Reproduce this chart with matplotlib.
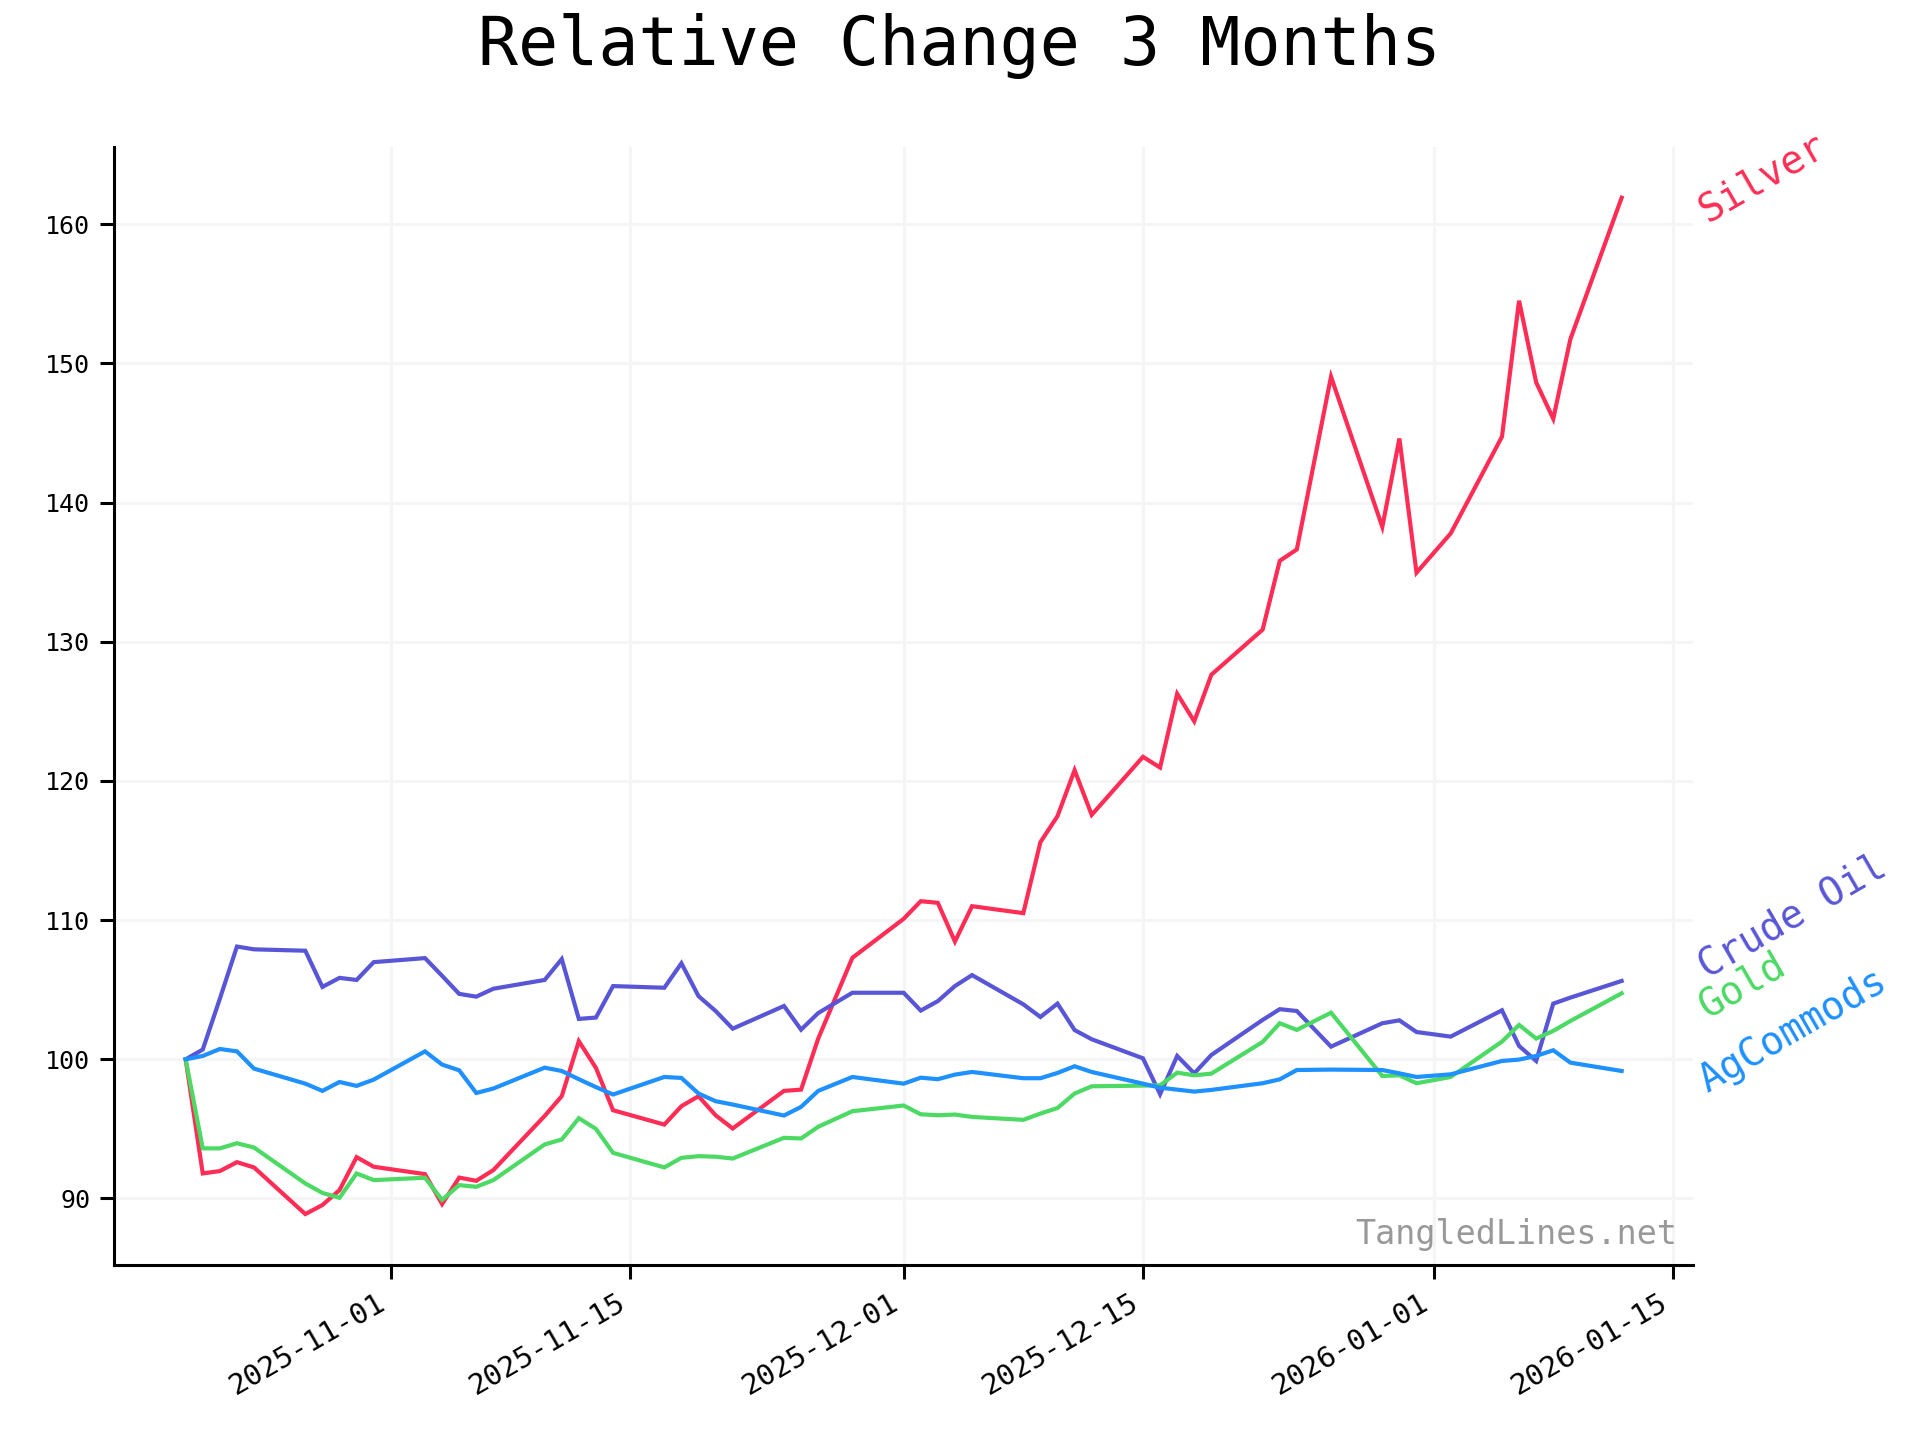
import matplotlib
matplotlib.use("Agg")
import matplotlib.pyplot as plt
import matplotlib.dates as mdates
import pandas as pd

dates = [
    "2025-10-20", "2025-10-21", "2025-10-22", "2025-10-23", "2025-10-24",
    "2025-10-27", "2025-10-28", "2025-10-29", "2025-10-30", "2025-10-31",
    "2025-11-03", "2025-11-04", "2025-11-05", "2025-11-06", "2025-11-07",
    "2025-11-10", "2025-11-11", "2025-11-12", "2025-11-13", "2025-11-14",
    "2025-11-17", "2025-11-18", "2025-11-19", "2025-11-20", "2025-11-21",
    "2025-11-24", "2025-11-25", "2025-11-26", "2025-11-28",
    "2025-12-01", "2025-12-02", "2025-12-03", "2025-12-04", "2025-12-05",
    "2025-12-08", "2025-12-09", "2025-12-10", "2025-12-11", "2025-12-12",
    "2025-12-15", "2025-12-16", "2025-12-17", "2025-12-18", "2025-12-19",
    "2025-12-22", "2025-12-23", "2025-12-24", "2025-12-26",
    "2025-12-29", "2025-12-30", "2025-12-31",
    "2026-01-02", "2026-01-05", "2026-01-06", "2026-01-07", "2026-01-08",
    "2026-01-09", "2026-01-12",
]

silver = [
    100, 91.8, 91.97, 92.61, 92.23,
    88.88, 89.53, 90.6, 92.97, 92.28,
    91.75, 89.6, 91.5, 91.27, 92.04,
    95.93, 97.35, 101.3, 99.38, 96.34,
    95.31, 96.63, 97.35, 95.98, 95.03,
    97.73, 97.82, 101.48, 107.29,
    110.09, 111.36, 111.24, 108.46, 111.0,
    110.5, 115.6, 117.47, 120.77, 117.56,
    121.73, 120.96, 126.26, 124.28, 127.63,
    130.87, 135.81, 136.63, 149.04,
    138.25, 144.6, 134.96,
    137.78, 144.73, 154.5, 148.63, 146.02,
    151.73, 161.9,
]

crude_oil = [
    100, 100.7, 104.35, 108.1, 107.9,
    107.8, 105.2, 105.85, 105.7, 106.98,
    107.27, 106.0, 104.7, 104.5, 105.07,
    105.7, 107.2, 102.9, 103.0, 105.26,
    105.14, 106.9, 104.54, 103.47, 102.2,
    103.83, 102.13, 103.32, 104.78,
    104.78, 103.5, 104.18, 105.26, 106.05,
    103.95, 103.04, 104.0, 102.1, 101.44,
    100.07, 97.49, 100.24, 98.99, 100.31,
    102.83, 103.6, 103.47, 100.91,
    102.59, 102.8, 101.96,
    101.63, 103.52, 100.96, 99.88, 104.0,
    104.43, 105.63,
]

gold = [
    100, 93.6, 93.6, 93.97, 93.66,
    91.08, 90.4, 90.05, 91.8, 91.32,
    91.49, 89.9, 90.96, 90.84, 91.32,
    93.88, 94.24, 95.77, 95.0, 93.28,
    92.23, 92.92, 93.04, 93.0, 92.87,
    94.36, 94.31, 95.15, 96.27,
    96.68, 96.05, 95.98, 96.03, 95.86,
    95.65, 96.1, 96.5, 97.54, 98.06,
    98.11, 98.13, 99.04, 98.85, 98.97,
    101.25, 102.59, 102.11, 103.35,
    98.8, 98.85, 98.28,
    98.73, 101.27, 102.47, 101.49, 102.04,
    102.75, 104.74,
]

ag_commods = [
    100, 100.24, 100.74, 100.57, 99.33,
    98.25, 97.73, 98.37, 98.09, 98.54,
    100.57, 99.62, 99.21, 97.58, 97.9,
    99.4, 99.16, 98.57, 98.0, 97.47,
    98.73, 98.66, 97.54, 96.99, 96.75,
    95.96, 96.58, 97.73, 98.73,
    98.25, 98.68, 98.57, 98.9, 99.09,
    98.64, 98.64, 99.02, 99.5, 99.09,
    98.25, 97.96, 97.82, 97.68, 97.8,
    98.28, 98.56, 99.23, 99.26,
    99.23, 98.99, 98.73,
    98.92, 99.88, 99.98, 100.24, 100.65,
    99.76, 99.16,
]

series_names = ["Silver", "Crude Oil", "Gold", "AgCommods"]
series_values = [silver, crude_oil, gold, ag_commods]
colors = ["#FF2D55", "#5856D6", "#4CD964", "#1E90FF"]
label_offsets = [-1.8, 0.2, -1.8, -1.6]  # layout nudges for end labels

x = pd.to_datetime(dates)

mono = "DejaVu Sans Mono"
plt.rcParams["font.family"] = mono

fig = plt.figure(figsize=(9.6, 7.2), dpi=200)
ax = fig.add_axes([0.0593, 0.1216, 0.8227, 0.7764])

for name, vals, c in zip(series_names, series_values, colors):
    ax.plot(x, vals, color=c, linewidth=1.5, solid_joinstyle="miter")

for name, vals, c, off in zip(series_names, series_values, colors, label_offsets):
    ax.text(x[-1] + pd.Timedelta(days=5.0), vals[-1] + off, name, color=c,
            fontsize=14, rotation=30, rotation_mode="anchor",
            ha="left", va="baseline", clip_on=False)

ax.grid(True, color="#f5f5f5", linewidth=1.1)
ax.set_axisbelow(True)
for s in ["top", "right"]:
    ax.spines[s].set_visible(False)
for s in ["left", "bottom"]:
    ax.spines[s].set_linewidth(1.1)

ax.xaxis.set_major_locator(mdates.DayLocator(bymonthday=[1, 15]))
ax.xaxis.set_major_formatter(mdates.DateFormatter("%Y-%m-%d"))
ax.tick_params(axis="both", length=5, width=1.1)
ax.tick_params(axis="y", labelsize=9)
ax.tick_params(axis="x", labelsize=10.5)
for lbl in ax.get_xticklabels():
    lbl.set_rotation(30)
    lbl.set_ha("right")

ax.text(0.99, 0.012, "TangledLines.net", transform=ax.transAxes,
        ha="right", va="bottom", fontsize=12, color="#999999")

fig.text(0.5, 0.968, "Relative Change 3 Months", ha="center", va="center",
         fontsize=24)

fig.savefig("out.png", dpi=200)
